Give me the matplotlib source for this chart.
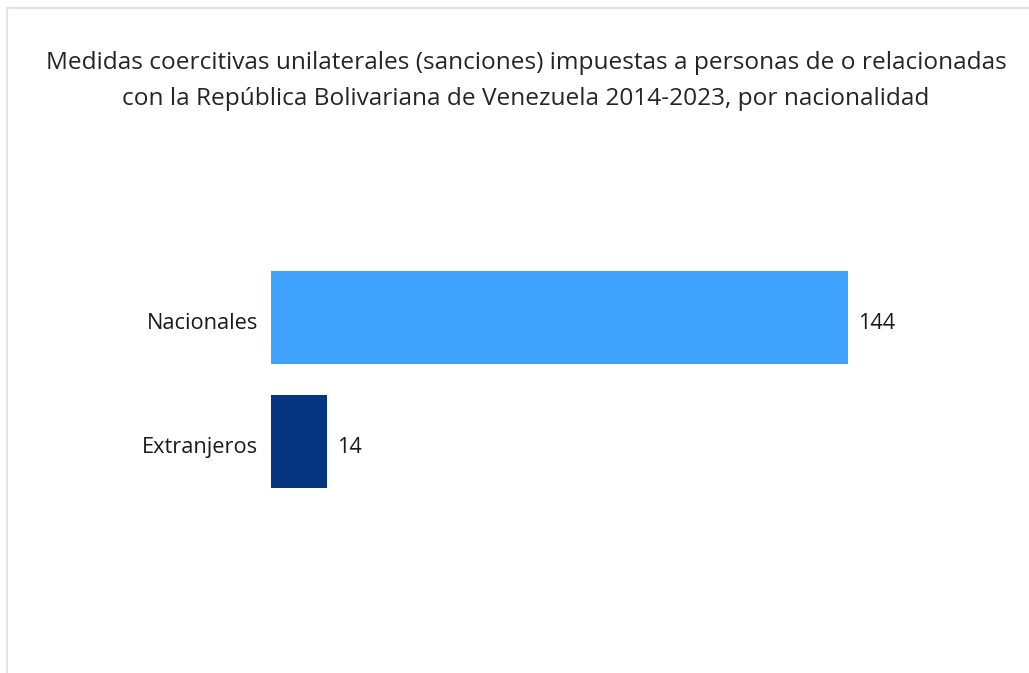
import matplotlib
matplotlib.use("Agg")
import matplotlib.pyplot as plt
from matplotlib.lines import Line2D

# Sanctions by nationality, 2014-2023
categories = ["Extranjeros", "Nacionales"]
values = [14, 144]
colors = ["#05357f", "#3fa3fd"]

title_lines = [
    "Medidas coercitivas unilaterales (sanciones) impuestas a personas de o relacionadas",
    "con la República Bolivariana de Venezuela 2014-2023, por nacionalidad",
]

plt.rcParams["font.family"] = ["Open Sans", "DejaVu Sans"]

W, H = 1029, 673
fig = plt.figure(figsize=(W / 100, H / 100), dpi=100)

# light frame along the top and left edge
fig.add_artist(Line2D([7 / W, 1], [1 - 8 / H, 1 - 8 / H], color="#e4e4e4", lw=1.5))
fig.add_artist(Line2D([7 / W, 7 / W], [0, 1 - 8 / H], color="#e4e4e4", lw=1.5))

fig.text(526 / W, 1 - 63 / H, title_lines[0], ha="center", va="center",
         fontsize=17.6, color="#252525")
fig.text(526 / W, 1 - 99 / H, title_lines[1], ha="center", va="center",
         fontsize=17.6, color="#252525")

ax = fig.add_axes([271 / W, (H - 503.25) / H, 729 / W, 248 / H])
ypos = list(range(len(categories)))
bars = ax.barh(ypos, values, height=0.75, color=colors)
ax.set_xlim(0, 182)
ax.set_ylim(-0.5, 1.5)
ax.set_xticks([])
ax.set_yticks([])
for s in ax.spines.values():
    s.set_visible(False)

# category names left of the bars, values right of them
for y, name in zip(ypos, categories):
    ax.text(-13 / 729, y - 0.03, name, transform=ax.get_yaxis_transform(),
            ha="right", va="center_baseline", fontsize=15.7, color="#1a1a1a")

for b, v in zip(bars, values):
    ax.text(b.get_width() + 2.6, b.get_y() + b.get_height() / 2 - 0.03, str(v),
            va="center_baseline", ha="left", fontsize=15.7, color="#1a1a1a")

fig.savefig("out.png", dpi=100)
